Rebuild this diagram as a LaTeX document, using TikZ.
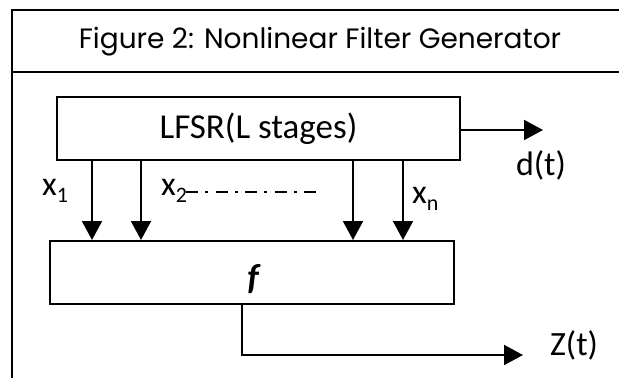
\documentclass[tikz,border=0pt]{standalone}
\usepackage{fontspec}
\setmainfont{Carlito}
\newfontfamily\titlefont{Poppins}
\usetikzlibrary{arrows.meta}
\begin{document}
\begin{tikzpicture}[x=1pt,y=-1pt,
  boxstyle/.style={draw,line width=2pt,rectangle,inner sep=0pt},
  arr/.style={line width=2pt,-{Triangle[length=19pt,width=20pt]}},
  lbl/.style={inner sep=0pt,font=\fontsize{34}{36}\selectfont},
  frame/.style={line width=1.5pt}]
\useasboundingbox (0,0) rectangle (619,378);
% frame
\coordinate (ftl) at (12,10);
\coordinate (ftr) at (619,10);
\coordinate (fbl) at (12,378);
\coordinate (hl) at (12,72);
\coordinate (hr) at (619,72);
\draw[frame,line width=1.2pt] (ftr) -- (ftl) -- (fbl);
\draw[frame,line width=2pt] (hl) -- (hr);
\node[inner sep=0pt,font=\titlefont\fontsize{28}{30}\selectfont] (title) at (320,42) {Figure 2: Nonlinear Filter Generator};
% boxes
\node[boxstyle,minimum width=403pt,minimum height=63pt,font=\fontsize{35}{36}\selectfont] (lfsr) at (258.5,128.5) {LFSR(L stages)};
\node[boxstyle,minimum width=404pt,minimum height=63pt] (fbox) at (252,272.5) {};
\node[inner sep=0pt,font=\fontsize{36}{38}\selectfont\bfseries\itshape] (ftext) at (253,279) {f};
% taps
\coordinate (c1) at (92,0);
\coordinate (c2) at (141,0);
\coordinate (c3) at (353,0);
\coordinate (c4) at (403,0);
\foreach \c in {c1,c2,c3,c4}
  \draw[arr] (\c |- lfsr.south) -- (\c |- fbox.north);
% labels
\node[lbl,anchor=west] (x1) at (42,191) {x\raisebox{-7pt}{\fontsize{22}{22}\selectfont 1}};
\node[lbl,anchor=west] (x2) at (161,191) {x\raisebox{-7pt}{\fontsize{22}{22}\selectfont 2}};
\coordinate (dd1) at (186,192);
\coordinate (dd2) at (316,192);
\draw[line width=2.4pt,dash pattern=on 12pt off 7.25pt on 3pt off 7.25pt] (dd1) -- (dd2);
\node[lbl,anchor=west] (xn) at (412,199) {x\raisebox{-7pt}{\fontsize{22}{22}\selectfont n}};
% d(t)
\coordinate (dtip) at (543,130);
\draw[arr] (lfsr.east |- dtip) -- (dtip);
\node[lbl] (dt) at (541,165) {d(t)};
% Z(t)
\coordinate (zc) at (242,355);
\coordinate (ztip) at (523,355);
\draw[arr] (zc |- fbox.south) -- (zc) -- (ztip);
\node[lbl] (zt) at (574,345) {Z(t)};
\end{tikzpicture}
\end{document}
